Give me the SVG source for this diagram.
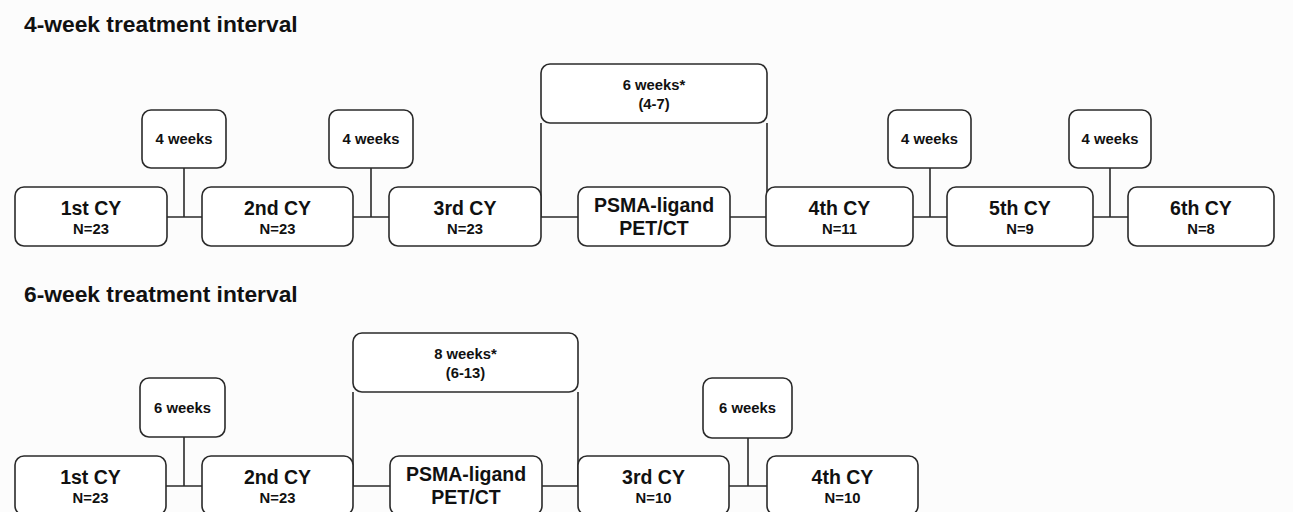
<svg xmlns="http://www.w3.org/2000/svg" width="1293" height="512" viewBox="0 0 1293 512">
<style>
.bg{fill:#fcfcfc}
.box{fill:#ffffff;stroke:#2a2a2a;stroke-width:1.6}
.ln{stroke:#2a2a2a;stroke-width:1.6;fill:none}
text{font-family:"Liberation Sans",Arial,sans-serif;font-weight:bold;fill:#111;text-anchor:middle}
.h{font-size:22.8px;text-anchor:start}
.t{font-size:19.5px}
.n{font-size:14.8px}
.w{font-size:14.8px}
</style>
<rect class="bg" x="0" y="0" width="1293" height="512"/>
<text class="h" x="24" y="32">4-week treatment interval</text>
<text class="h" x="24" y="302">6-week treatment interval</text>

<g id="connectors">
  <path class="ln" d="M167 217H202 M184 168V217"/>
  <path class="ln" d="M353 217H389 M371 168V217"/>
  <path class="ln" d="M541 217H578 M541 123V217"/>
  <path class="ln" d="M730 217H766 M767 123V217"/>
  <path class="ln" d="M913 217H947 M930 168V217"/>
  <path class="ln" d="M1093 217H1128 M1110 168V217"/>
  <path class="ln" d="M166 486H202 M184 437V486"/>
  <path class="ln" d="M353 486H390 M353 392V486"/>
  <path class="ln" d="M542 486H578 M578 392V486"/>
  <path class="ln" d="M729 486H767 M748 438V486"/>
</g>

<g id="t-cy1"><rect class="box" x="15" y="187" width="152" height="59" rx="9"/><text class="t" x="91" y="215">1st CY</text><text class="n" x="91" y="234">N=23</text></g>
<g id="t-cy2"><rect class="box" x="202" y="187" width="151" height="59" rx="9"/><text class="t" x="277.5" y="215">2nd CY</text><text class="n" x="277.5" y="234">N=23</text></g>
<g id="t-cy3"><rect class="box" x="389" y="187" width="152" height="59" rx="9"/><text class="t" x="465" y="215">3rd CY</text><text class="n" x="465" y="234">N=23</text></g>
<g id="t-pet"><rect class="box" x="578" y="187" width="152" height="59" rx="9"/><text class="t" x="654" y="212">PSMA-ligand</text><text class="t" x="654" y="235">PET/CT</text></g>
<g id="t-cy4"><rect class="box" x="766" y="187" width="147" height="59" rx="9"/><text class="t" x="839.5" y="215">4th CY</text><text class="n" x="839.5" y="234">N=11</text></g>
<g id="t-cy5"><rect class="box" x="947" y="187" width="146" height="59" rx="9"/><text class="t" x="1020" y="215">5th CY</text><text class="n" x="1020" y="234">N=9</text></g>
<g id="t-cy6"><rect class="box" x="1128" y="187" width="146" height="59" rx="9"/><text class="t" x="1201" y="215">6th CY</text><text class="n" x="1201" y="234">N=8</text></g>

<g id="t-w1"><rect class="box" x="142" y="110" width="84" height="58" rx="9"/><text class="w" x="184" y="144">4 weeks</text></g>
<g id="t-w2"><rect class="box" x="329" y="110" width="84" height="58" rx="9"/><text class="w" x="371" y="144">4 weeks</text></g>
<g id="t-w6"><rect class="box" x="541" y="64" width="226" height="59" rx="9"/><text class="w" x="654" y="90">6 weeks*</text><text class="w" x="654" y="109">(4-7)</text></g>
<g id="t-w3"><rect class="box" x="888" y="110" width="83" height="58" rx="9"/><text class="w" x="929.5" y="144">4 weeks</text></g>
<g id="t-w4"><rect class="box" x="1069" y="110" width="82" height="58" rx="9"/><text class="w" x="1110" y="144">4 weeks</text></g>

<g id="b-cy1"><rect class="box" x="15" y="456" width="151" height="59" rx="9"/><text class="t" x="90.5" y="484">1st CY</text><text class="n" x="90.5" y="503">N=23</text></g>
<g id="b-cy2"><rect class="box" x="202" y="456" width="151" height="59" rx="9"/><text class="t" x="277.5" y="484">2nd CY</text><text class="n" x="277.5" y="503">N=23</text></g>
<g id="b-pet"><rect class="box" x="390" y="456" width="152" height="59" rx="9"/><text class="t" x="466" y="481">PSMA-ligand</text><text class="t" x="466" y="504">PET/CT</text></g>
<g id="b-cy3"><rect class="box" x="578" y="456" width="151" height="59" rx="9"/><text class="t" x="653.5" y="484">3rd CY</text><text class="n" x="653.5" y="503">N=10</text></g>
<g id="b-cy4"><rect class="box" x="767" y="456" width="151" height="59" rx="9"/><text class="t" x="842.5" y="484">4th CY</text><text class="n" x="842.5" y="503">N=10</text></g>

<g id="b-w1"><rect class="box" x="140" y="378" width="85" height="59" rx="9"/><text class="w" x="182.5" y="413">6 weeks</text></g>
<g id="b-w8"><rect class="box" x="353" y="333" width="225" height="59" rx="9"/><text class="w" x="465.5" y="359">8 weeks*</text><text class="w" x="465.5" y="378">(6-13)</text></g>
<g id="b-w2"><rect class="box" x="703" y="378" width="89" height="60" rx="9"/><text class="w" x="747.5" y="413">6 weeks</text></g>
</svg>
